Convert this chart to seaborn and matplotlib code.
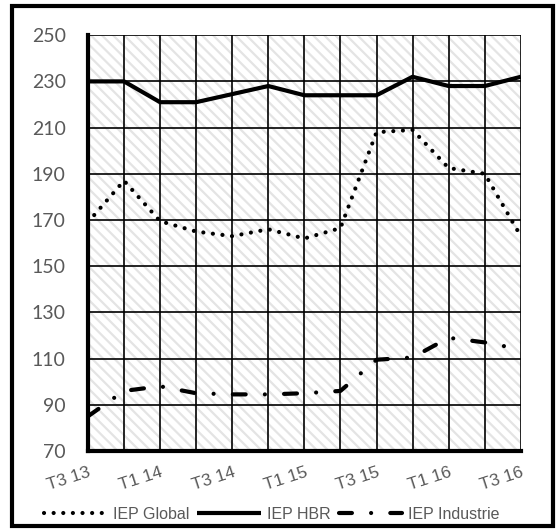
import matplotlib
matplotlib.use("Agg")
import matplotlib.pyplot as plt
from matplotlib.patches import Rectangle
import seaborn as sns
import pandas as pd

quarters = ["T3 13", "T4 13", "T1 14", "T2 14", "T3 14", "T4 14", "T1 15",
            "T2 15", "T3 15", "T4 15", "T1 16", "T2 16", "T3 16"]
iep_global = [169, 187, 169.5, 165, 163, 166, 162, 166.5, 208, 209, 192.5, 190, 163]
iep_hbr = [230, 230, 221, 221, 224.5, 228, 224, 224, 224, 232, 228, 228, 232]
iep_industrie = [85, 96, 98, 95, 94.5, 94.5, 95, 96, 109.5, 110.5, 119, 117, 114]
y_ticks = [70, 90, 110, 130, 150, 170, 190, 210, 230, 250]

df = pd.DataFrame({
    "idx": list(range(len(quarters))) * 3,
    "value": iep_global + iep_hbr + iep_industrie,
    "serie": ["IEP Global"] * 13 + ["IEP HBR"] * 13 + ["IEP Industrie"] * 13,
})

sns.set_style("white")
plt.rcParams["hatch.color"] = "#e4e4e4"
plt.rcParams["hatch.linewidth"] = 1.6

fig = plt.figure(figsize=(5.6, 5.31), dpi=100)
ax = fig.add_axes([0.157, 0.1507, 0.773, 0.783])

# hatched plot background
ax.add_patch(Rectangle((0, 0), 1, 1, transform=ax.transAxes, facecolor="white",
                       edgecolor="#e4e4e4", hatch="\\\\\\", lw=0, zorder=0))

styles = {
    "IEP Global": dict(dashes=(0.01, 2.3)),
    "IEP HBR": dict(dashes=None),
    "IEP Industrie": dict(dashes=(3.1, 4.6, 0.01, 4.6)),
}
for name in ["IEP Global", "IEP HBR", "IEP Industrie"]:
    sub = df[df["serie"] == name]
    sns.lineplot(data=sub, x="idx", y="value", ax=ax, color="black", lw=3,
                 label=name, zorder=5)
    line = ax.get_lines()[-1]
    line.set_solid_capstyle("butt")
    line.set_dash_capstyle("round")
    if styles[name]["dashes"] is not None:
        line.set_dashes(styles[name]["dashes"])

ax.set_xlim(0, len(quarters) - 1)
ax.set_ylim(70, 250)
ax.set_yticks(y_ticks)
ax.set_xticks(range(len(quarters)))
ax.set_xticklabels([q if i % 2 == 0 else "" for i, q in enumerate(quarters)],
                   rotation=18, ha="right", rotation_mode="anchor",
                   fontsize=12.5, color="#595959", family="Liberation Sans")
for lab in ax.get_yticklabels():
    lab.set_fontsize(14)
    lab.set_color("#595959")
    lab.set_family("Lato")
ax.set_xlabel("")
ax.set_ylabel("")
ax.grid(True, color="black", lw=1.2, zorder=1)
ax.set_axisbelow(False)
for s in ["top", "right"]:
    ax.spines[s].set_visible(False)
for s in ["left", "bottom"]:
    ax.spines[s].set_linewidth(3)
    ax.spines[s].set_color("black")
    ax.spines[s].set_zorder(6)
ax.tick_params(axis="both", direction="in", length=5, width=2, color="black")
ax.tick_params(axis="y", pad=16)
ax.tick_params(axis="x", pad=10)

leg = ax.legend(loc="center", bbox_to_anchor=(0.485, 0.031), bbox_transform=fig.transFigure,
                ncol=3, frameon=False, handlelength=4.0, handletextpad=0.35,
                columnspacing=0.5, prop={"family": "Liberation Sans", "size": 11.5})
for t in leg.get_texts():
    t.set_color("#595959")
for h, name in zip(leg.get_lines(), ["IEP Global", "IEP HBR", "IEP Industrie"]):
    h.set_dash_capstyle("round")
    if styles[name]["dashes"] is not None:
        h.set_dashes(styles[name]["dashes"])

# outer frame of the figure
fig.patches.append(Rectangle((0.021, 0.009), 0.967, 0.98, transform=fig.transFigure,
                             fill=False, edgecolor="black", lw=3))

fig.savefig("out.png", dpi=100)
